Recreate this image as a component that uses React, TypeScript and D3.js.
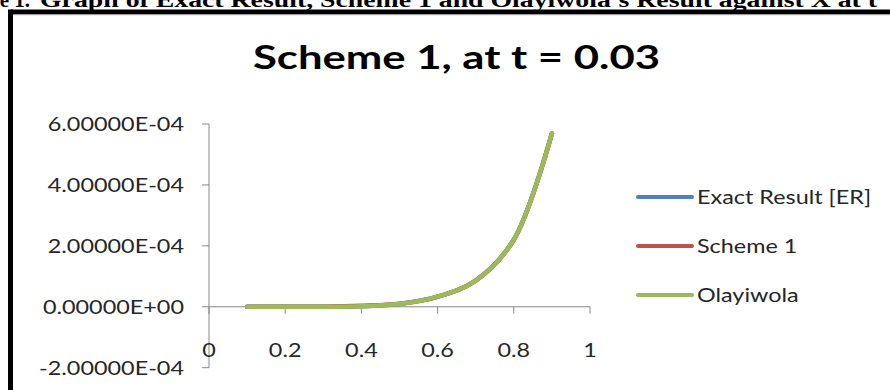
import React from "react";
import * as d3 from "d3";

// Grid points along X
const xs = [0.1, 0.2, 0.3, 0.4, 0.5, 0.6, 0.7, 0.8, 0.9];

// Solution values at t = 0.03 (units of 1e-4)
const exactResult = [0.0, 0.0, 0.0, 0.02, 0.09, 0.33, 0.86, 2.2, 5.69];
const scheme1 = [0.0, 0.0, 0.0, 0.03, 0.1, 0.33, 0.86, 2.2, 5.69];
const olayiwola = [0.0, 0.0, 0.0, 0.02, 0.09, 0.33, 0.86, 2.2, 5.69];

const yTicks = [-2e-4, 0, 2e-4, 4e-4, 6e-4];
const xTicks = [0, 0.2, 0.4, 0.6, 0.8, 1];

const seriesNames = ["Exact Result [ER]", "Scheme 1", "Olayiwola"];
const seriesColors = ["#4F81BD", "#C0504D", "#9BBB59"];
const seriesValues = [exactResult, scheme1, olayiwola];

const W = 890;
const H = 390;
const SX = 1.17; // horizontal stretch of the chart text
const FONT = "Lato, 'Open Sans', sans-serif";
const AXIS = "#888888";

export default function App() {
  const x = d3.scaleLinear().domain([0, 1]).range([209, 590]);
  const y = d3.scaleLinear().domain([-2e-4, 6e-4]).range([367.7, 124]);

  const line = d3
    .line<[number, number]>()
    .x((d) => x(d[0]))
    .y((d) => y(d[1] * 1e-4))
    .curve(d3.curveCatmullRom.alpha(0.5));

  const fmtY = (v: number) => {
    const s = v.toExponential(5).toUpperCase(); // e.g. 6.00000E-4
    const m = s.match(/^(-?[\d.]+)E([+-])(\d+)$/);
    if (!m) return s;
    return `${m[1]}E${m[2]}${m[3].padStart(2, "0")}`;
  };

  const legendRows = [197, 246, 295];

  return (
    <svg
      width={W}
      height={H}
      style={{ position: "absolute", left: 0, top: 0, background: "#fff" }}
    >
      {/* caption above the frame */}
      <text
        x={30}
        y={7}
        textAnchor="end"
        fontFamily="'Liberation Serif', 'Times New Roman', serif"
        fontWeight="bold"
        fontSize={21}
        fill="#000"
      >
        Figure 1.
      </text>
      <text
        x={40}
        y={7}
        textLength={837}
        lengthAdjust="spacingAndGlyphs"
        fontFamily="'Liberation Serif', 'Times New Roman', serif"
        fontWeight="bold"
        fontSize={21}
        fill="#000"
      >
        Graph of Exact Result, Scheme 1 and Olayiwola's Result against X at t
      </text>

      {/* frame */}
      <line x1={10.5} x2={W + 5} y1={12} y2={12} stroke="#000" strokeWidth={5} />
      <line x1={14} x2={W + 5} y1={14.8} y2={14.8} stroke="#bbb" strokeWidth={0.8} />
      <line x1={10.5} x2={10.5} y1={9.5} y2={H + 5} stroke="#000" strokeWidth={5} />

      {/* title */}
      <text
        x={253}
        y={69}
        textLength={407}
        lengthAdjust="spacingAndGlyphs"
        fontFamily={FONT}
        fontWeight="bold"
        fontSize={32}
        fill="#000"
      >
        Scheme 1, at t = 0.03
      </text>

      {/* y axis */}
      <line x1={x(0)} x2={x(0)} y1={y(6e-4)} y2={y(-2e-4)} stroke={AXIS} strokeWidth={1} />
      {yTicks.map((t) => (
        <g key={`yt${t}`}>
          <line x1={x(0) - 7} x2={x(0)} y1={y(t)} y2={y(t)} stroke={AXIS} strokeWidth={1} />
          <text
            transform={`translate(184,${y(t)}) scale(${SX},1)`}
            textAnchor="end"
            dominantBaseline="central"
            fontFamily={FONT}
            fontSize={20}
            fill="#262626"
          >
            {fmtY(t)}
          </text>
        </g>
      ))}

      {/* x axis */}
      <line x1={x(0)} x2={x(1)} y1={y(0)} y2={y(0)} stroke={AXIS} strokeWidth={1} />
      {xTicks.map((t) => (
        <g key={`xt${t}`}>
          <line x1={x(t)} x2={x(t)} y1={y(0)} y2={y(0) + 7} stroke={AXIS} strokeWidth={1} />
          <text
            transform={`translate(${x(t)},350) scale(${SX},1)`}
            textAnchor="middle"
            dominantBaseline="central"
            fontFamily={FONT}
            fontSize={20}
            fill="#262626"
          >
            {String(t)}
          </text>
        </g>
      ))}

      {/* series */}
      {seriesValues.map((vals, i) => (
        <path
          key={seriesNames[i]}
          d={line(xs.map((xv, j) => [xv, vals[j]] as [number, number])) || ""}
          fill="none"
          stroke={seriesColors[i]}
          strokeWidth={4.5}
          strokeLinecap="round"
          strokeLinejoin="round"
        />
      ))}

      {/* legend */}
      {seriesNames.map((name, i) => (
        <g key={`lg${name}`}>
          <line
            x1={638}
            x2={692}
            y1={legendRows[i]}
            y2={legendRows[i]}
            stroke={seriesColors[i]}
            strokeWidth={4}
            strokeLinecap="round"
          />
          <text
            transform={`translate(697,${legendRows[i]}) scale(${SX},1)`}
            dominantBaseline="central"
            fontFamily={FONT}
            fontSize={20}
            fill="#262626"
          >
            {name}
          </text>
        </g>
      ))}
    </svg>
  );
}
